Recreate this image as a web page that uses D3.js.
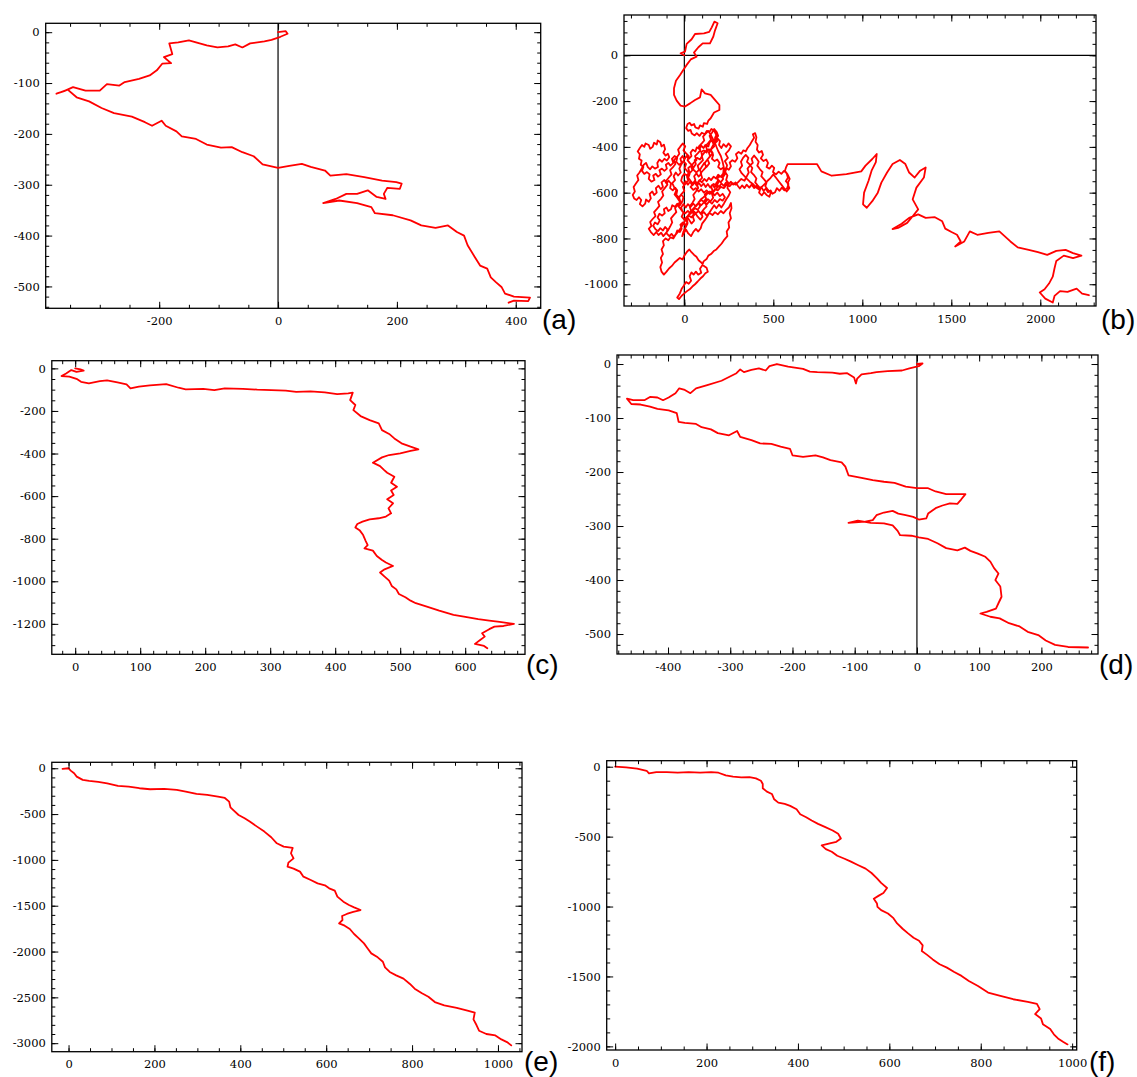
<!DOCTYPE html>
<html><head><meta charset="utf-8">
<script src="https://cdn.jsdelivr.net/npm/d3@7"></script>
<style>body{margin:0;background:#fff}</style>
</head><body>
<svg id="chart" width="1137" height="1077"></svg>
<script>
// ---------------- DATA ----------------
const panelLabels = ["(a)", "(b)", "(c)", "(d)", "(e)", "(f)"];

const pathA = [[0,0],[13,2],[16,-3],[4,-9],[-11,-15],[-23,-18],[-47,-22],[-60,-30],[-72,-24],[-84,-28],[-102,-30],[-120,-26],[-132,-22],[-150,-16],[-168,-20],[-183,-22],[-178,-43],[-192,-49],[-180,-61],[-195,-62],[-204,-75],[-216,-85],[-234,-92],[-258,-98],[-267,-105],[-288,-102],[-300,-115],[-324,-115],[-345,-108],[-360,-116],[-373,-121],[-354,-113],[-339,-128],[-318,-136],[-297,-149],[-276,-159],[-246,-166],[-224,-177],[-212,-184],[-196,-174],[-189,-184],[-171,-195],[-162,-205],[-138,-210],[-120,-221],[-96,-227],[-78,-226],[-60,-236],[-41,-244],[-26,-260],[0,-267],[19,-263],[40,-259],[55,-265],[79,-272],[88,-282],[115,-279],[145,-285],[175,-292],[199,-295],[208,-298],[205,-308],[184,-306],[178,-318],[181,-328],[166,-324],[151,-311],[133,-318],[115,-318],[97,-328],[76,-336],[103,-331],[133,-336],[157,-344],[163,-356],[193,-360],[223,-370],[241,-380],[265,-385],[286,-380],[301,-393],[313,-400],[319,-419],[331,-442],[340,-459],[352,-465],[358,-482],[367,-492],[376,-501],[382,-514],[397,-520],[424,-522],[421,-529],[397,-528],[388,-532]];

const pathB = [[0,0],[-21,9],[4,16],[13,50],[41,70],[60,93],[110,96],[140,102],[154,122],[169,147],[187,140],[172,108],[163,82],[144,52],[103,52],[79,35],[54,12],[69,-6],[36,-18],[13,-42],[-6,-64],[-24,-86],[-47,-111],[-58,-144],[-58,-173],[-43,-198],[-21,-220],[4,-224],[32,-210],[60,-195],[88,-184],[97,-149],[116,-166],[148,-173],[172,-195],[197,-217],[197,-239],[167,-250],[148,-275],
[135,-285],[128,-300],[110,-296],[104,-312],[88,-306],[80,-320],[62,-315],[55,-300],[40,-306],[30,-295],[18,-300],[10,-318],[22,-330],[35,-326],[42,-342],[58,-350],[70,-340],[85,-352],[98,-338],[115,-345],[126,-330],[140,-336],[152,-322],[168,-330],[180,-348],[172,-362],[185,-375],[170,-385],[158,-372],[142,-380],[135,-398],[118,-392],[108,-405],[95,-395],[86,-410],[70,-402],[62,-420],[48,-412],[35,-425],[40,-440],[25,-452],[12,-440],[0,-455],[-10,-440],[-22,-452],[-15,-470],[-30,-478],[-45,-465],[-40,-448],[-55,-440],[-70,-452],[-62,-470],[-78,-482],[-90,-470],[-104,-478],[-98,-495],[-112,-505],[-126,-495],[-140,-502],[-132,-520],[-148,-530],[-160,-518],[-175,-525],[-168,-545],[-185,-552],[-200,-540],[-195,-520],[-210,-510],[-225,-518],[-238,-505],[-230,-488],[-245,-478],[-240,-460],[-255,-452],[-250,-432],[-262,-420],[-250,-405],[-238,-392],[-225,-400],[-218,-385],[-200,-392],[-192,-408],[-178,-400],[-170,-382],[-155,-390],[-150,-372],[-135,-380],[-128,-398],[-115,-390],[-108,-410],[-118,-425],[-105,-438],[-92,-430],[-85,-445],[-98,-460],[-112,-452],[-125,-465],[-140,-455],[-152,-470],[-148,-488],[-165,-495],[-180,-485],[-192,-498],[-205,-488],[-215,-470],[-228,-478],
[-240,-495],[-252,-512],[-265,-525],[-258,-545],[-272,-560],[-285,-575],[-278,-595],[-290,-610],[-282,-625],[-268,-632],[-255,-620],[-242,-632],[-250,-650],[-235,-660],[-220,-648],[-215,-630],[-200,-640],[-188,-625],[-195,-605],[-180,-595],[-170,-610],[-155,-600],[-160,-580],[-145,-570],[-132,-585],[-120,-575],[-128,-555],[-112,-545],[-100,-560],[-88,-548],[-75,-560],[-80,-580],[-65,-590],[-52,-578],[-40,-590],[-45,-610],[-30,-622],[-18,-608],[-5,-620],[-12,-640],[-25,-655],[-40,-648],[-52,-662],[-68,-655],[-75,-672],[-90,-680],[-100,-665],[-115,-672],[-110,-690],[-125,-700],[-140,-692],[-150,-708],[-138,-722],[-150,-738],[-165,-730],[-175,-745],[-162,-760],[-148,-768],[-135,-755],[-120,-765],[-108,-750],[-95,-760],[-100,-778],[-85,-790],[-72,-780],[-60,-792],[-48,-782],[-40,-765],[-25,-772],[-15,-758],[-22,-740],[-8,-730],[5,-742],[18,-730],[12,-712],[25,-700],[40,-708],[52,-695],[45,-678],[60,-668],[75,-675],[88,-660],[80,-642],[95,-632],[110,-640],[122,-625],[115,-608],[130,-598],[145,-605],[158,-590],[150,-572],[165,-562],[180,-570],[192,-555],[185,-538],[200,-528],[215,-535],[228,-520],[220,-502],[235,-492],[250,-500],[262,-485],[255,-468],[270,-458],[285,-465],[298,-450],[290,-432],[305,-422],[320,-430],[332,-415],[345,-420],[355,-405],[368,-392],[380,-375],[392,-360],[385,-345],[398,-340],[405,-358],[400,-378],[412,-392],[408,-412],[420,-425],[435,-418],[442,-435],[430,-450],[445,-462],[460,-455],[470,-470],[462,-488],[478,-495],[492,-482],[505,-492],[498,-510],[515,-520],[530,-508],[545,-518],[560,-505],[575,-515],[582,-535],[570,-550],[585,-562],[578,-580],[562,-590],[548,-578],[535,-592],[520,-580],[510,-598],[495,-605],[485,-590],[470,-598],[458,-582],[445,-592],[432,-575],[418,-585],[405,-570],[392,-580],[378,-565],[365,-578],[350,-565],[338,-580],[325,-568],[312,-582],[300,-570],[288,-555],[275,-565],[262,-552],[248,-565],[235,-555],[222,-570],[208,-560],[195,-575],[182,-562],[170,-578],[158,-565],[145,-578],[132,-562],[120,-575],[108,-560],[95,-572],[82,-558],[70,-570],[58,-555],[45,-568],[32,-552],[20,-565],[8,-550],[-5,-562],[-18,-548],[-12,-530],[0,-518],[15,-525],[28,-510],[22,-492],[38,-482],[52,-490],[65,-475],[58,-458],[72,-448],[88,-455],[100,-440],[95,-422],[110,-415],[125,-425],[138,-410],[150,-420],[162,-435],[155,-452],[170,-462],[185,-455],[198,-470],[190,-488],[205,-498],[220,-490],[232,-505],
[240,-480],[228,-462],[245,-448],[232,-430],[250,-415],[262,-398],[248,-385],[235,-400],[220,-388],[208,-405],[195,-392],[200,-375],[185,-362],[172,-378],[160,-395],[148,-412],[160,-428],[145,-440],[130,-455],[140,-472],[125,-488],[112,-470],[100,-485],[88,-500],[95,-518],[80,-530],[68,-515],[55,-528],[62,-545],[48,-560],[35,-548],[22,-535],[30,-518],[15,-505],[2,-492],[10,-475],[-5,-462],[-18,-478],[-28,-495],[-20,-512],[-35,-525],[-48,-512],[-60,-528],[-52,-545],[-68,-558],[-58,-575],[-45,-590],[-55,-608],[-40,-622],[-25,-640],[-35,-658],[-20,-672],[-5,-688],[-15,-705],[0,-718],[15,-705],[28,-720],[40,-735],[55,-722],[48,-705],[62,-690],[75,-705],[90,-718],[102,-705],[95,-688],[110,-672],[125,-660],[118,-642],[132,-628],[148,-638],[162,-622],[155,-605],[170,-590],[185,-578],[178,-560],[192,-545],[205,-555],[218,-540],[212,-522],[228,-508],
[242,-525],[235,-545],[250,-560],[242,-580],[258,-598],[248,-615],[235,-630],[222,-648],[208,-665],[195,-652],[180,-668],[168,-655],[155,-670],[140,-688],[128,-705],[115,-720],[100,-735],[92,-755],[78,-770],[65,-758],[50,-772],[38,-790],[22,-778],[10,-762],[-2,-775],[-12,-790],
[-5,-770],[8,-750],[18,-735],[10,-715],[25,-695],[38,-680],[30,-660],[45,-645],[58,-628],[50,-610],[65,-595],[78,-580],[70,-562],[85,-548],[100,-535],[92,-515],[108,-500],[122,-488],[115,-470],[130,-455],[145,-442],[138,-425],[152,-410],[168,-398],[160,-380],[175,-365],[190,-352],[182,-335],[168,-322],[155,-338],[142,-352],[150,-368],[135,-382],[120,-395],[128,-412],[112,-425],[98,-440],[105,-458],[90,-470],[75,-482],[82,-500],[68,-512],[52,-500],[45,-482],[30,-470],[18,-458],[25,-440],[10,-428],[-5,-415],[5,-398],[-8,-385],[-22,-398],[-35,-412],[-28,-430],[-42,-445],[-58,-458],[-50,-475],[-65,-490],[-80,-502],[-72,-520],[-88,-535],[-102,-548],[-95,-565],[-110,-580],[-125,-595],[-118,-612],[-132,-628],[-148,-640],[-140,-658],[-155,-672],[-170,-685],[-162,-702],[-178,-715],[-192,-728],[-185,-745],[-200,-758],[-188,-772],[-172,-785],[-158,-772],[-145,-785],[-130,-775],[-118,-790],[-105,-778],[-92,-765],
[-80,-748],[-68,-730],[-75,-712],[-60,-698],[-45,-685],[-52,-668],[-38,-652],[-22,-640],[-30,-620],[-15,-605],[0,-592],[-8,-575],[8,-560],[22,-548],[15,-530],[30,-515],[45,-502],[38,-485],[52,-470],[68,-458],[60,-440],[75,-428],[90,-415],[82,-398],[98,-385],[112,-372],[105,-355],[120,-342],[135,-330],[150,-350],[165,-372],[178,-395],[190,-418],[205,-440],[215,-465],[222,-490],
[218,-518],[205,-530],[190,-522],[178,-538],[165,-530],[150,-545],[138,-535],[125,-550],[112,-540],[98,-555],[85,-545],[72,-560],[60,-548],[48,-562],[35,-575],[50,-588],[65,-580],[80,-595],[95,-585],[110,-600],[125,-590],[140,-605],[155,-595],[170,-612],[185,-600],[200,-615],[215,-605],[228,-620],[215,-635],[200,-628],[185,-642],[170,-632],[155,-648],[140,-638],[125,-652],[110,-642],[95,-655],[80,-645],[65,-660],[50,-648],[35,-662],[20,-650],[8,-665],[-5,-650],[-18,-665],[-10,-682],[5,-690],[20,-680],[35,-692],[50,-680],[65,-690],[80,-680],[95,-695],[110,-685],[125,-700],[140,-688],[158,-698],[172,-685],[188,-695],[205,-680],[220,-690],[235,-675],[250,-665],[262,-645],
[265,-668],[255,-690],[262,-712],[248,-730],[252,-752],[238,-770],[242,-790],[225,-805],[210,-822],[195,-835],[180,-848],[165,-855],[150,-868],[135,-875],[125,-890],[108,-900],[100,-918],[88,-932],[95,-950],[78,-958],[65,-945],[52,-958],[40,-948],[30,-965],[38,-985],[25,-998],[10,-990],[-2,-1005],[-15,-1020],[-25,-1040],[-40,-1058],[-30,-1065],[-15,-1050],[0,-1040],[15,-1030],[30,-1022],[45,-1010],[60,-1000],[75,-988],[90,-975],[105,-965],[118,-952],[132,-945],[125,-928],[110,-920],[95,-905],[80,-895],[68,-880],[55,-872],[40,-860],[28,-848],[15,-858],[0,-875],[-10,-892],[-25,-885],[-40,-895],[-55,-905],[-70,-920],[-85,-930],[-100,-945],[-115,-958],[-128,-945],[-135,-925],[-125,-905],[-132,-885],[-120,-868],[-128,-848],[-115,-830],[-120,-812],[-105,-800],[-90,-808],[-78,-795],[-62,-800],[-50,-785],
[-35,-770],[-20,-755],[-5,-735],[8,-718],[20,-700],[35,-688],[48,-672],[62,-660],[78,-645],[92,-630],[108,-620],[125,-608],[140,-595],[158,-598],[172,-585],[188,-590],[205,-575],[222,-580],[238,-565],[255,-572],[270,-558],[288,-565],[305,-552],[320,-540],[338,-548],
[350,-530],[362,-512],[355,-495],[370,-480],[385,-470],[378,-452],[392,-438],[405,-450],[418,-465],[410,-482],[425,-498],[440,-510],[432,-528],[448,-542],[462,-555],[455,-572],[470,-588],[485,-600],[478,-618],[462,-610],[448,-598],[435,-612],[420,-600],[428,-582],[412,-568],[398,-555],[405,-538],[390,-522],[375,-510],[382,-492],[368,-478],[352,-465],[360,-448],[345,-435],[330,-448],[318,-465],[325,-482],[310,-498],[322,-515],[338,-528],[352,-540],[368,-552],[385,-562],[400,-575],[418,-585],[435,-575],[452,-562],[468,-548],[485,-535],[500,-520],[515,-535],[530,-550],[545,-565],[560,-580],[575,-595],[590,-580],[580,-560],[592,-540],[580,-520],[565,-505],[572,-488],[580,-475],
[642,-475],[745,-475],[770,-507],[828,-526],[911,-519],[994,-507],[1018,-482],[1056,-453],[1081,-431],[1076,-467],[1052,-504],[1035,-548],[1010,-600],[1004,-651],[1025,-666],[1056,-637],[1087,-600],[1107,-556],[1139,-512],[1170,-475],[1211,-457],[1242,-475],[1263,-512],[1294,-534],[1325,-504],[1356,-490],[1346,-534],[1304,-578],[1283,-629],[1314,-673],[1283,-703],[1252,-732],[1201,-754],[1170,-759],[1221,-736],[1263,-710],[1314,-695],[1356,-710],[1408,-707],[1449,-725],[1466,-757],[1501,-772],[1532,-784],[1553,-813],[1522,-835],[1573,-813],[1604,-769],[1646,-784],[1708,-776],[1770,-769],[1801,-791],[1832,-813],[1873,-839],[1935,-850],[1987,-860],[2039,-872],[2090,-854],[2142,-850],[2184,-864],[2231,-875],[2184,-886],[2132,-875],[2090,-898],[2080,-930],[2070,-967],[2049,-997],[2024,-1022],[1997,-1036],[2028,-1063],[2070,-1080],[2080,-1051],[2111,-1030],[2153,-1033],[2204,-1019],[2235,-1041],[2273,-1048]];

const pathC = [[0,0],[8,-5],[13,-11],[2,-16],[-6,-8],[-14,-24],[-21,-36],[-9,-39],[2,-49],[9,-63],[21,-70],[38,-60],[49,-56],[65,-66],[79,-75],[85,-94],[98,-86],[115,-80],[140,-74],[159,-91],[170,-99],[197,-96],[214,-102],[230,-94],[258,-96],[280,-100],[302,-102],[324,-105],[340,-110],[362,-108],[384,-113],[403,-121],[420,-117],[427,-114],[423,-149],[431,-172],[428,-196],[439,-224],[453,-243],[467,-258],[472,-290],[483,-308],[491,-329],[502,-352],[516,-368],[528,-380],[516,-388],[500,-399],[483,-407],[472,-418],[458,-443],[469,-459],[475,-477],[480,-490],[491,-509],[486,-537],[495,-556],[486,-574],[490,-595],[480,-615],[489,-634],[482,-657],[486,-681],[478,-696],[467,-704],[453,-709],[442,-720],[434,-731],[431,-747],[438,-762],[443,-783],[447,-811],[450,-830],[445,-845],[458,-856],[464,-881],[472,-900],[478,-912],[489,-928],[476,-944],[469,-959],[476,-978],[483,-997],[487,-1022],[494,-1038],[498,-1060],[508,-1075],[516,-1091],[524,-1103],[541,-1119],[560,-1138],[582,-1158],[598,-1166],[620,-1178],[637,-1185],[653,-1191],[675,-1200],[659,-1210],[645,-1213],[637,-1225],[626,-1244],[630,-1260],[623,-1276],[615,-1294],[629,-1304],[634,-1315]];

const pathD = [[0,0],[9,1],[3,-4],[-12,-8],[-24,-12],[-47,-13],[-65,-15],[-74,-17],[-89,-19],[-96,-27],[-98,-36],[-101,-25],[-112,-17],[-124,-18],[-136,-16],[-160,-15],[-172,-14],[-183,-9],[-207,-5],[-225,0],[-237,-4],[-243,-12],[-254,-8],[-266,-11],[-278,-15],[-284,-10],[-290,-17],[-302,-24],[-314,-31],[-337,-39],[-355,-45],[-364,-54],[-373,-48],[-382,-45],[-388,-54],[-399,-62],[-408,-67],[-417,-62],[-429,-61],[-438,-67],[-456,-67],[-466,-64],[-459,-74],[-444,-75],[-429,-79],[-417,-83],[-399,-86],[-386,-91],[-383,-107],[-373,-109],[-355,-111],[-346,-117],[-331,-121],[-320,-128],[-302,-132],[-289,-124],[-284,-135],[-266,-141],[-252,-147],[-234,-148],[-219,-153],[-204,-157],[-200,-169],[-183,-172],[-163,-169],[-151,-173],[-139,-178],[-121,-182],[-115,-190],[-110,-206],[-89,-211],[-71,-215],[-53,-218],[-36,-220],[-18,-227],[0,-230],[18,-230],[30,-236],[47,-241],[62,-241],[78,-241],[71,-251],[65,-259],[53,-258],[41,-262],[30,-267],[18,-277],[15,-286],[3,-288],[-6,-283],[-18,-280],[-30,-277],[-39,-272],[-53,-275],[-65,-280],[-71,-289],[-83,-292],[-110,-294],[-95,-290],[-74,-294],[-53,-295],[-39,-299],[-31,-309],[-27,-317],[-9,-318],[3,-321],[18,-324],[33,-332],[47,-341],[65,-345],[77,-340],[86,-346],[98,-351],[110,-357],[118,-366],[124,-378],[131,-388],[126,-400],[134,-412],[136,-431],[131,-443],[127,-453],[112,-459],[102,-462],[118,-468],[133,-471],[148,-480],[165,-486],[178,-496],[195,-502],[207,-512],[222,-520],[243,-524],[275,-525]];

const pathE = [[-14,-7],[0,0],[5,-26],[13,-55],[19,-91],[33,-127],[48,-138],[69,-149],[90,-164],[115,-193],[140,-200],[165,-218],[190,-229],[223,-226],[252,-237],[273,-255],[298,-280],[323,-291],[348,-309],[364,-324],[374,-364],[377,-426],[385,-462],[396,-510],[410,-546],[422,-582],[439,-637],[456,-691],[472,-753],[485,-819],[501,-855],[522,-870],[518,-928],[524,-983],[512,-1030],[510,-1074],[524,-1095],[539,-1128],[547,-1183],[564,-1219],[580,-1256],[597,-1277],[607,-1310],[620,-1336],[626,-1401],[640,-1456],[653,-1492],[665,-1518],[680,-1547],[663,-1568],[648,-1590],[637,-1612],[638,-1656],[630,-1692],[643,-1718],[655,-1754],[665,-1809],[676,-1856],[688,-1911],[697,-1969],[705,-2020],[720,-2063],[732,-2111],[737,-2173],[748,-2223],[763,-2260],[780,-2296],[795,-2354],[806,-2405],[823,-2456],[838,-2493],[853,-2551],[875,-2587],[904,-2616],[929,-2646],[946,-2667],[943,-2740],[950,-2802],[956,-2864],[973,-2900],[994,-2915],[1008,-2959],[1021,-2988],[1031,-3024]];

const pathF = [[0,0],[24,-5],[48,-14],[69,-29],[74,-48],[90,-38],[113,-38],[137,-43],[161,-38],[186,-43],[210,-38],[226,-43],[242,-62],[258,-71],[276,-76],[294,-74],[308,-83],[319,-100],[323,-124],[323,-154],[332,-178],[343,-195],[348,-233],[357,-257],[371,-266],[383,-280],[397,-304],[405,-340],[418,-361],[430,-385],[444,-409],[460,-432],[476,-456],[488,-480],[494,-513],[484,-537],[472,-546],[452,-563],[461,-589],[474,-608],[486,-637],[502,-658],[516,-679],[531,-703],[548,-729],[561,-760],[573,-798],[582,-831],[595,-867],[587,-903],[577,-922],[566,-945],[573,-979],[574,-1002],[582,-1026],[597,-1050],[609,-1083],[617,-1121],[629,-1159],[641,-1192],[653,-1223],[665,-1245],[673,-1278],[671,-1318],[682,-1344],[695,-1378],[710,-1413],[726,-1437],[742,-1468],[758,-1496],[774,-1532],[794,-1568],[816,-1615],[843,-1639],[871,-1663],[903,-1682],[923,-1696],[929,-1734],[919,-1769],[932,-1800],[936,-1841],[952,-1876],[960,-1914],[969,-1943],[980,-1967],[990,-1986]];

// axis ranges
const xDomains = [[-391,442],[-339,2313],[-36,692],[-482,291],[-39,1056],[-18.5,1010]];
const yDomains = [[-543,17.5],[-1095,176],[-1343,36],[-537,16.7],[-3093,65],[-2026,43]];
// labelled (major) ticks
const xMajor = [[-200,0,200,400],[0,500,1000,1500,2000],[0,100,200,300,400,500,600],[-400,-300,-200,-100,0,100,200],[0,200,400,600,800,1000],[0,200,400,600,800,1000]];
const yMajor = [[0,-100,-200,-300,-400,-500],[0,-200,-400,-600,-800,-1000],[0,-200,-400,-600,-800,-1000,-1200],[0,-100,-200,-300,-400,-500],[0,-500,-1000,-1500,-2000,-2500,-3000],[0,-500,-1000,-1500,-2000]];
// minor tick steps
const xMinorStep = [50,100,20,20,50,50];
const yMinorStep = [20,50,50,20,100,100];
// which zero axes are drawn
const zeroX = [true,true,false,true,false,false];
const zeroY = [false,true,false,false,false,false];

const paths = [pathA, pathB, pathC, pathD, pathE, pathF];

// ---------------- LAYOUT ----------------
const frames = [
  {L:45.7, R:540.7, T:23.3, B:308.3, lx:542, ly:329},
  {L:624,  R:1096,  T:15,   B:306,   lx:1101, ly:329},
  {L:51.8, R:525,   T:360.7,B:654.3, lx:526, ly:674},
  {L:617,  R:1098,  T:355,  B:654,   lx:1099, ly:674},
  {L:51.8, R:522,   T:762.3,B:1051.7,lx:524, ly:1071},
  {L:606.7,R:1076.7,T:760.7,B:1050,  lx:1089, ly:1071}
];

const svg = d3.select("#chart");
svg.append("rect").attr("width",1137).attr("height",1077).attr("fill","#fff");

const fmt = d => (d < 0 ? "-" + Math.abs(d) : String(d));
const tickFont = "DejaVu Serif";
const tickFontSize = 11.5;

function minorVals(dom, step){
  const lo = Math.min(dom[0],dom[1]), hi = Math.max(dom[0],dom[1]);
  return d3.range(Math.ceil(lo/step)*step, hi + 1e-9, step);
}

function styleAxis(g, showText){
  g.select(".domain").remove();
  g.selectAll(".tick line").attr("stroke","#000").attr("stroke-width",1);
  if(!showText) g.selectAll(".tick text").remove();
  else g.selectAll(".tick text").attr("font-family",tickFont).attr("font-size",tickFontSize).attr("fill","#000");
}

paths.forEach((data, i) => {
  const f = frames[i];
  const x = d3.scaleLinear().domain(xDomains[i]).range([f.L, f.R]);
  const y = d3.scaleLinear().domain(yDomains[i]).range([f.B, f.T]);
  const g = svg.append("g");

  const clipId = "clip" + i;
  svg.append("clipPath").attr("id", clipId).append("rect")
    .attr("x", f.L).attr("y", f.T).attr("width", f.R - f.L).attr("height", f.B - f.T);

  // zero axes
  if (zeroX[i]) g.append("line").attr("x1", x(0)).attr("x2", x(0)).attr("y1", f.T).attr("y2", f.B)
      .attr("stroke", "#000").attr("stroke-width", 1.2);
  if (zeroY[i]) g.append("line").attr("x1", f.L).attr("x2", f.R).attr("y1", y(0)).attr("y2", y(0))
      .attr("stroke", "#000").attr("stroke-width", 1.2);

  // walk
  const line = d3.line().x(d => x(d[0])).y(d => y(d[1]));
  g.append("path").datum(data).attr("d", line)
    .attr("clip-path", `url(#${clipId})`)
    .attr("fill", "none").attr("stroke", "#ff0000").attr("stroke-width", 1.8)
    .attr("stroke-linejoin", "round").attr("stroke-linecap", "round");

  // minor ticks
  const xm = minorVals(xDomains[i], xMinorStep[i]);
  const ym = minorVals(yDomains[i], yMinorStep[i]);
  g.append("g").attr("transform", `translate(0,${f.B})`)
    .call(d3.axisBottom(x).tickValues(xm).tickSize(-3.5).tickSizeOuter(0).tickFormat(""))
    .call(a => styleAxis(a, false));
  g.append("g").attr("transform", `translate(0,${f.T})`)
    .call(d3.axisTop(x).tickValues(xm).tickSize(-3.5).tickSizeOuter(0).tickFormat(""))
    .call(a => styleAxis(a, false));
  g.append("g").attr("transform", `translate(${f.L},0)`)
    .call(d3.axisLeft(y).tickValues(ym).tickSize(-3.5).tickSizeOuter(0).tickFormat(""))
    .call(a => styleAxis(a, false));
  g.append("g").attr("transform", `translate(${f.R},0)`)
    .call(d3.axisRight(y).tickValues(ym).tickSize(-3.5).tickSizeOuter(0).tickFormat(""))
    .call(a => styleAxis(a, false));

  // major ticks with labels
  g.append("g").attr("transform", `translate(0,${f.B})`)
    .call(d3.axisBottom(x).tickValues(xMajor[i]).tickSize(-6.5).tickSizeOuter(0).tickPadding(8.5).tickFormat(fmt))
    .call(a => styleAxis(a, true));
  g.append("g").attr("transform", `translate(0,${f.T})`)
    .call(d3.axisTop(x).tickValues(xMajor[i]).tickSize(-6.5).tickSizeOuter(0).tickFormat(""))
    .call(a => styleAxis(a, false));
  g.append("g").attr("transform", `translate(${f.L},0)`)
    .call(d3.axisLeft(y).tickValues(yMajor[i]).tickSize(-6.5).tickSizeOuter(0).tickPadding(6).tickFormat(fmt))
    .call(a => styleAxis(a, true));
  g.append("g").attr("transform", `translate(${f.R},0)`)
    .call(d3.axisRight(y).tickValues(yMajor[i]).tickSize(-6.5).tickSizeOuter(0).tickFormat(""))
    .call(a => styleAxis(a, false));

  // frame
  g.append("rect").attr("x", f.L).attr("y", f.T).attr("width", f.R - f.L).attr("height", f.B - f.T)
    .attr("fill", "none").attr("stroke", "#000").attr("stroke-width", 1.3);

  // panel letter
  svg.append("text").attr("x", f.lx).attr("y", f.ly).text(panelLabels[i])
    .attr("font-family", "Liberation Sans, Arial, sans-serif").attr("font-size", 28).attr("fill", "#000");
});
</script>
</body></html>
